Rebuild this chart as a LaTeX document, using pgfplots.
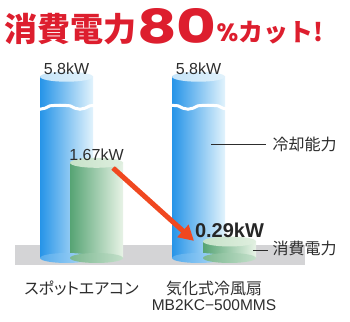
\documentclass[border=0pt]{standalone}
\usepackage{pgfplots}
\pgfplotsset{compat=1.18}
\usepackage{fontspec}
\setmainfont{Liberation Sans}
\newfontfamily\cjk{Noto Sans CJK JP}
\newfontfamily\cjkp[RawFeature=+palt]{Noto Sans CJK JP}
\newfontfamily\pop{Poppins}
\usetikzlibrary{arrows.meta}

\definecolor{titlered}{RGB}{221,30,46}
\definecolor{blueL}{RGB}{38,148,232}
\definecolor{blueR}{RGB}{226,243,252}
\definecolor{blueTL}{RGB}{185,222,247}
\definecolor{blueTR}{RGB}{238,248,253}
\definecolor{greenL}{RGB}{86,164,116}
\definecolor{greenR}{RGB}{232,243,230}
\definecolor{greenTL}{RGB}{186,220,190}
\definecolor{greenTR}{RGB}{236,245,234}
\definecolor{floorgray}{RGB}{212,212,214}
\definecolor{arrowred}{RGB}{240,72,32}
\definecolor{txtgray}{RGB}{45,45,45}

\pgfdeclarehorizontalshading{blueside}{100bp}{color(0bp)=(blueL); color(100bp)=(blueR)}
\pgfdeclarehorizontalshading{greenside}{100bp}{color(0bp)=(greenL); color(100bp)=(greenR)}
\pgfdeclarehorizontalshading{bluetop}{100bp}{color(0bp)=(blueTL); color(100bp)=(blueTR)}
\pgfdeclarehorizontalshading{greentop}{100bp}{color(0bp)=(greenTL); color(100bp)=(greenTR)}

\newcommand\cylmark[2]{%
 \pgfdeclareplotmark{#1}{%
  \pgfpathellipse{\pgfpointorigin}{\pgfqpoint{26.5pt}{0pt}}{\pgfqpoint{0pt}{5pt}}%
  \pgfshadepath{#2}{0}\pgfusepath{discard}}}
\cylmark{bluebase}{blueside}
\cylmark{greenbase}{greenside}
\cylmark{bluecap}{bluetop}
\cylmark{greencap}{greentop}

\begin{document}
\begin{tikzpicture}
\useasboundingbox (0pt,0pt) rectangle (350pt,321pt);
\node[anchor=base west, inner sep=0pt, text=titlered] at (4pt,279pt)
 {\cjk\bfseries\fontsize{33}{33}\selectfont 消費電力\hspace{1pt}%
  \pop\bfseries\fontsize{47}{47}\selectfont\raisebox{-2pt}{\scalebox{1.3}[1]{80}}%
  \fontsize{25}{25}\selectfont\%\cjk\bfseries\fontsize{25}{25}\selectfont カット!};
\begin{axis}[
  at={(15pt,56pt)}, anchor=south west,
  scale only axis, width=290pt, height=205pt,
  xmin=15, xmax=305, ymin=-0.1228, ymax=7.60,
  y coord trafo/.code={\pgfmathparse{#1>2.67 ? 2.67+(#1-2.67)*0.163 : #1}},
  y coord inv trafo/.code={\pgfmathparse{#1>2.67 ? 2.67+(#1-2.67)/0.163 : #1}},
  axis line style={draw=none},
  ytick=\empty,
  xtick={81.5,214},
  xticklabels={{\cjkp スポットエアコン},{\cjk 気化式冷風扇\\\fontsize{15.5}{16.5}\selectfont MB2KC−500MMS}},
  xticklabel style={align=center, font=\fontsize{16}{16.5}\selectfont, text=txtgray, yshift=-12pt},
  major tick length=0pt,
  clip=false,
]
\fill[floorgray] (axis cs:15,-0.1228) rectangle (axis cs:305,0.228);
% blue left
\addplot[only marks, mark=bluebase] coordinates {(66.5,0)};
\addplot[ybar, bar width=53, bar shift=0pt, draw=none, left color=blueL, right color=blueR] coordinates {(66.5,5.8)};
\addplot[only marks, mark=bluecap, nodes near coords={\pgfplotspointmeta}, point meta=explicit symbolic,
  nodes near coords style={anchor=center, yshift=8pt, font=\fontsize{16}{16}\selectfont, text=txtgray}]
  coordinates {(66.5,5.8) [5.8kW]};
% blue right
\addplot[only marks, mark=bluebase] coordinates {(198.5,0)};
\addplot[ybar, bar width=53, bar shift=0pt, draw=none, left color=blueL, right color=blueR] coordinates {(198.5,5.8)};
\addplot[only marks, mark=bluecap, nodes near coords={\pgfplotspointmeta}, point meta=explicit symbolic,
  nodes near coords style={anchor=center, yshift=8pt, font=\fontsize{16}{16}\selectfont, text=txtgray}]
  coordinates {(198.5,5.8) [5.8kW]};
% breaks
\draw[white, line width=3pt] (axis cs:30,2.67) sin (axis cs:40,2.61) cos (axis cs:50,2.67) sin (axis cs:60,2.73) cos (axis cs:70,2.67) sin (axis cs:80,2.61) cos (axis cs:90,2.67) sin (axis cs:100,2.73);
\draw[white, line width=3pt] (axis cs:168,2.73) cos (axis cs:178,2.67) sin (axis cs:188,2.61) cos (axis cs:198,2.67) sin (axis cs:208,2.73) cos (axis cs:218,2.67) sin (axis cs:228,2.61);
\draw[txtgray, line width=0.8pt] (axis cs:211,2.0) -- (axis cs:266,2.0);
% green left
\addplot[only marks, mark=greenbase] coordinates {(96.5,0)};
\addplot[ybar, bar width=53, bar shift=0pt, draw=none, left color=greenL, right color=greenR] coordinates {(96.5,1.67)};
\addplot[only marks, mark=greencap, nodes near coords={\pgfplotspointmeta}, point meta=explicit symbolic,
  nodes near coords style={anchor=center, yshift=8pt, font=\fontsize{16}{16}\selectfont, text=txtgray}]
  coordinates {(96.5,1.67) [1.67kW]};
% green right
\addplot[only marks, mark=greenbase] coordinates {(229.5,0)};
\addplot[ybar, bar width=53, bar shift=0pt, draw=none, left color=greenL, right color=greenR] coordinates {(229.5,0.29)};
\draw[arrowred, line width=5pt, -{Triangle[length=15pt, width=16pt]}] (axis cs:113,1.58) -- (axis cs:194,0.30);
\addplot[only marks, mark=greencap, nodes near coords={\pgfplotspointmeta}, point meta=explicit symbolic,
  nodes near coords style={anchor=center, yshift=11pt, font=\bfseries\fontsize{20}{20}\selectfont, text=black!85}]
  coordinates {(229.5,0.29) [0.29kW]};
\draw[txtgray, line width=0.8pt] (axis cs:253,0.14) -- (axis cs:268,0.14);
\node[anchor=west, text=txtgray, font=\cjk\fontsize{16}{16}\selectfont] at (axis cs:269,2.0) {冷却能力};
\node[anchor=west, text=txtgray, font=\cjk\fontsize{16}{16}\selectfont] at (axis cs:269,0.16) {消費電力};
\end{axis}
\end{tikzpicture}
\end{document}
